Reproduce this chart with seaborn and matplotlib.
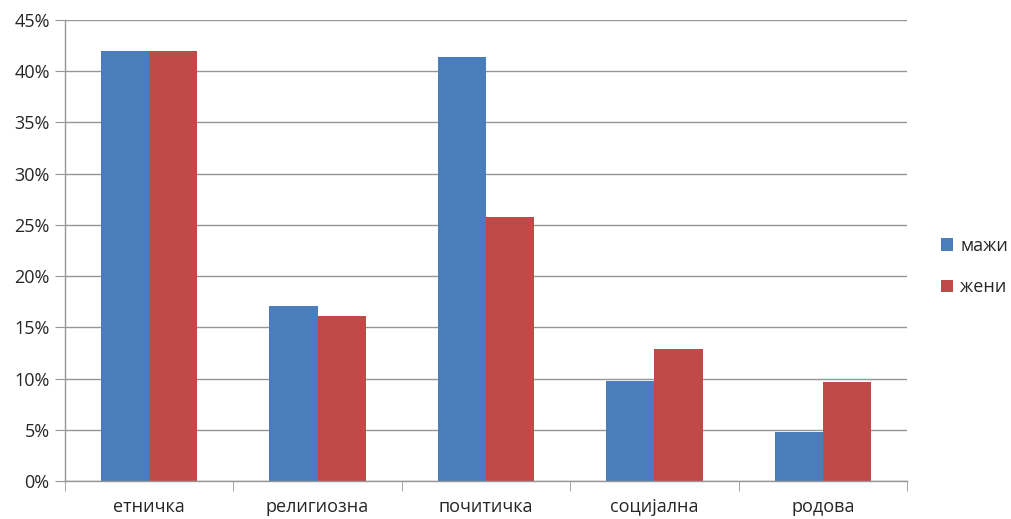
import matplotlib
matplotlib.use("Agg")
import matplotlib.pyplot as plt
import seaborn as sns
import pandas as pd
import numpy as np
from matplotlib.ticker import PercentFormatter, FixedLocator

categories = ["етничка", "религиозна", "почитичка", "социјална", "родова"]
mazhi = [42.0, 17.1, 41.4, 9.8, 4.8]
zheni = [42.0, 16.1, 25.8, 12.9, 9.7]
series = ["мажи", "жени"]
colors = ["#4A7EBB", "#BE4B48"]
yticks = [0, 5, 10, 15, 20, 25, 30, 35, 40, 45]

df = pd.DataFrame({
    "cat": categories * 2,
    "val": mazhi + zheni,
    "ser": [series[0]] * len(categories) + [series[1]] * len(categories),
})

sns.set_style("white")
plt.rcParams["font.family"] = ["Open Sans", "DejaVu Sans"]

fig = plt.figure(figsize=(10.11, 5.19), dpi=100)
ax = fig.add_axes([65 / 1011, (519 - 481) / 519, (907 - 65) / 1011, (481 - 20) / 519])

sns.barplot(data=df, x="cat", y="val", hue="ser", palette=colors, width=0.572,
            saturation=1, ax=ax, order=categories, hue_order=series, linewidth=0)

ax.set_ylim(0, 45)
ax.set_xlim(-0.5, len(categories) - 0.5)
ax.set_yticks(yticks)
ax.yaxis.set_major_formatter(PercentFormatter(decimals=0))
ax.yaxis.grid(True, color="#969696", linewidth=1)
ax.set_axisbelow(True)
ax.set_xlabel("")
ax.set_ylabel("")

for s in ["top", "right"]:
    ax.spines[s].set_visible(False)
for s in ["left", "bottom"]:
    ax.spines[s].set_color("#969696")
    ax.spines[s].set_linewidth(1)

ax.tick_params(axis="y", which="major", length=7, color="#969696", labelsize=13, pad=4, left=True, direction="out")
ax.tick_params(axis="x", which="major", length=0, labelsize=13, pad=12)
ax.xaxis.set_minor_locator(FixedLocator(np.arange(-0.5, len(categories), 1.0)))
ax.tick_params(axis="x", which="minor", length=7, color="#969696", bottom=True, direction="out")

handles, labels = ax.get_legend_handles_labels()
ax.legend(handles, labels, loc="center left", bbox_to_anchor=(1.027, 0.465), frameon=False,
          fontsize=13, handlelength=0.7, handleheight=0.7, labelspacing=1.3, handletextpad=0.4,
          borderaxespad=0.2)

fig.savefig("out.png", dpi=100)
